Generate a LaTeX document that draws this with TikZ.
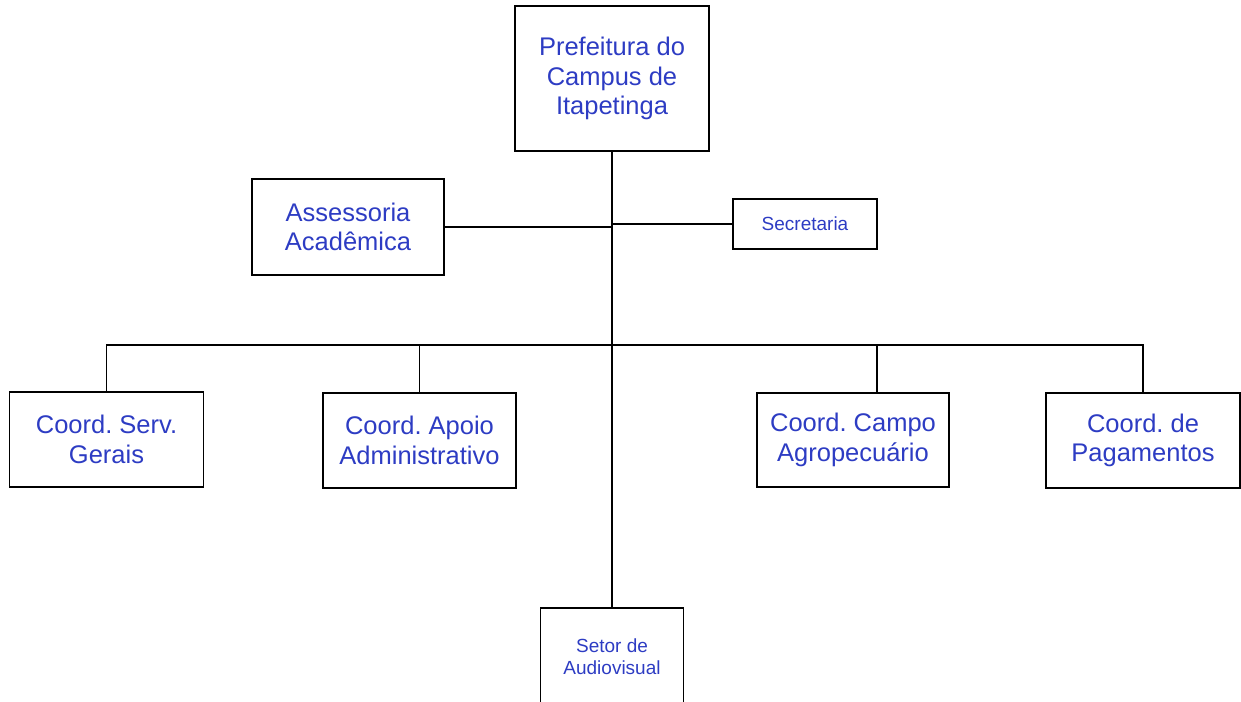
\documentclass[tikz,border=0pt]{standalone}
\usepackage{fontspec}
\setmainfont{Liberation Sans}
\frenchspacing
\definecolor{txtblue}{RGB}{45,60,195}
\begin{document}
\begin{tikzpicture}[x=1pt,y=-1pt,
  box/.style={draw=black,line width=1.2pt,rectangle,inner sep=0pt,align=center,
    text=txtblue,font=\fontsize{25.5}{29.5}\selectfont},
  smallbox/.style={box,font=\fontsize{19}{22.5}\selectfont},
  conn/.style={draw=black,line width=1.1pt}]
\useasboundingbox (0,0) rectangle (1241,701);
\node[box,minimum width=194pt,minimum height=145pt] (top) at (612,78.5) {Prefeitura do\\Campus de\\Itapetinga};
\node[box,minimum width=192pt,minimum height=96pt] (ass) at (348,227) {Assessoria\\Acadêmica};
\node[smallbox,minimum width=144pt,minimum height=50pt] (sec) at (805,224) {Secretaria};
\node[box,minimum width=194pt,minimum height=95pt] (serv) at (106.5,439.5) {Coord. Serv.\\Gerais};
\node[box,minimum width=193pt,minimum height=95pt] (apoio) at (419.5,440.5) {Coord. Apoio\\Administrativo};
\node[box,minimum width=192pt,minimum height=94pt] (campo) at (853,440) {Coord. Campo\\Agropecuário};
\node[box,minimum width=194pt,minimum height=95pt] (pag) at (1143,440.5) {Coord. de\\Pagamentos};
\node[smallbox,minimum width=143pt,minimum height=97pt] (setor) at (612,656.5) {Setor de\\Audiovisual};
\coordinate (bus) at (612,345);
\coordinate (campotop) at (877,393);
\draw[conn] (top.south) -- (setor.north);
\draw[conn] (ass.east) -- (ass.east -| top.south);
\draw[conn] (sec.west -| top.south) -- (sec.west);
\draw[conn] (serv.north) |- (pag.north |- bus) -- (pag.north);
\draw[conn] (apoio.north) -- (apoio.north |- bus);
\draw[conn] (campotop) -- (campotop |- bus);
\end{tikzpicture}
\end{document}
